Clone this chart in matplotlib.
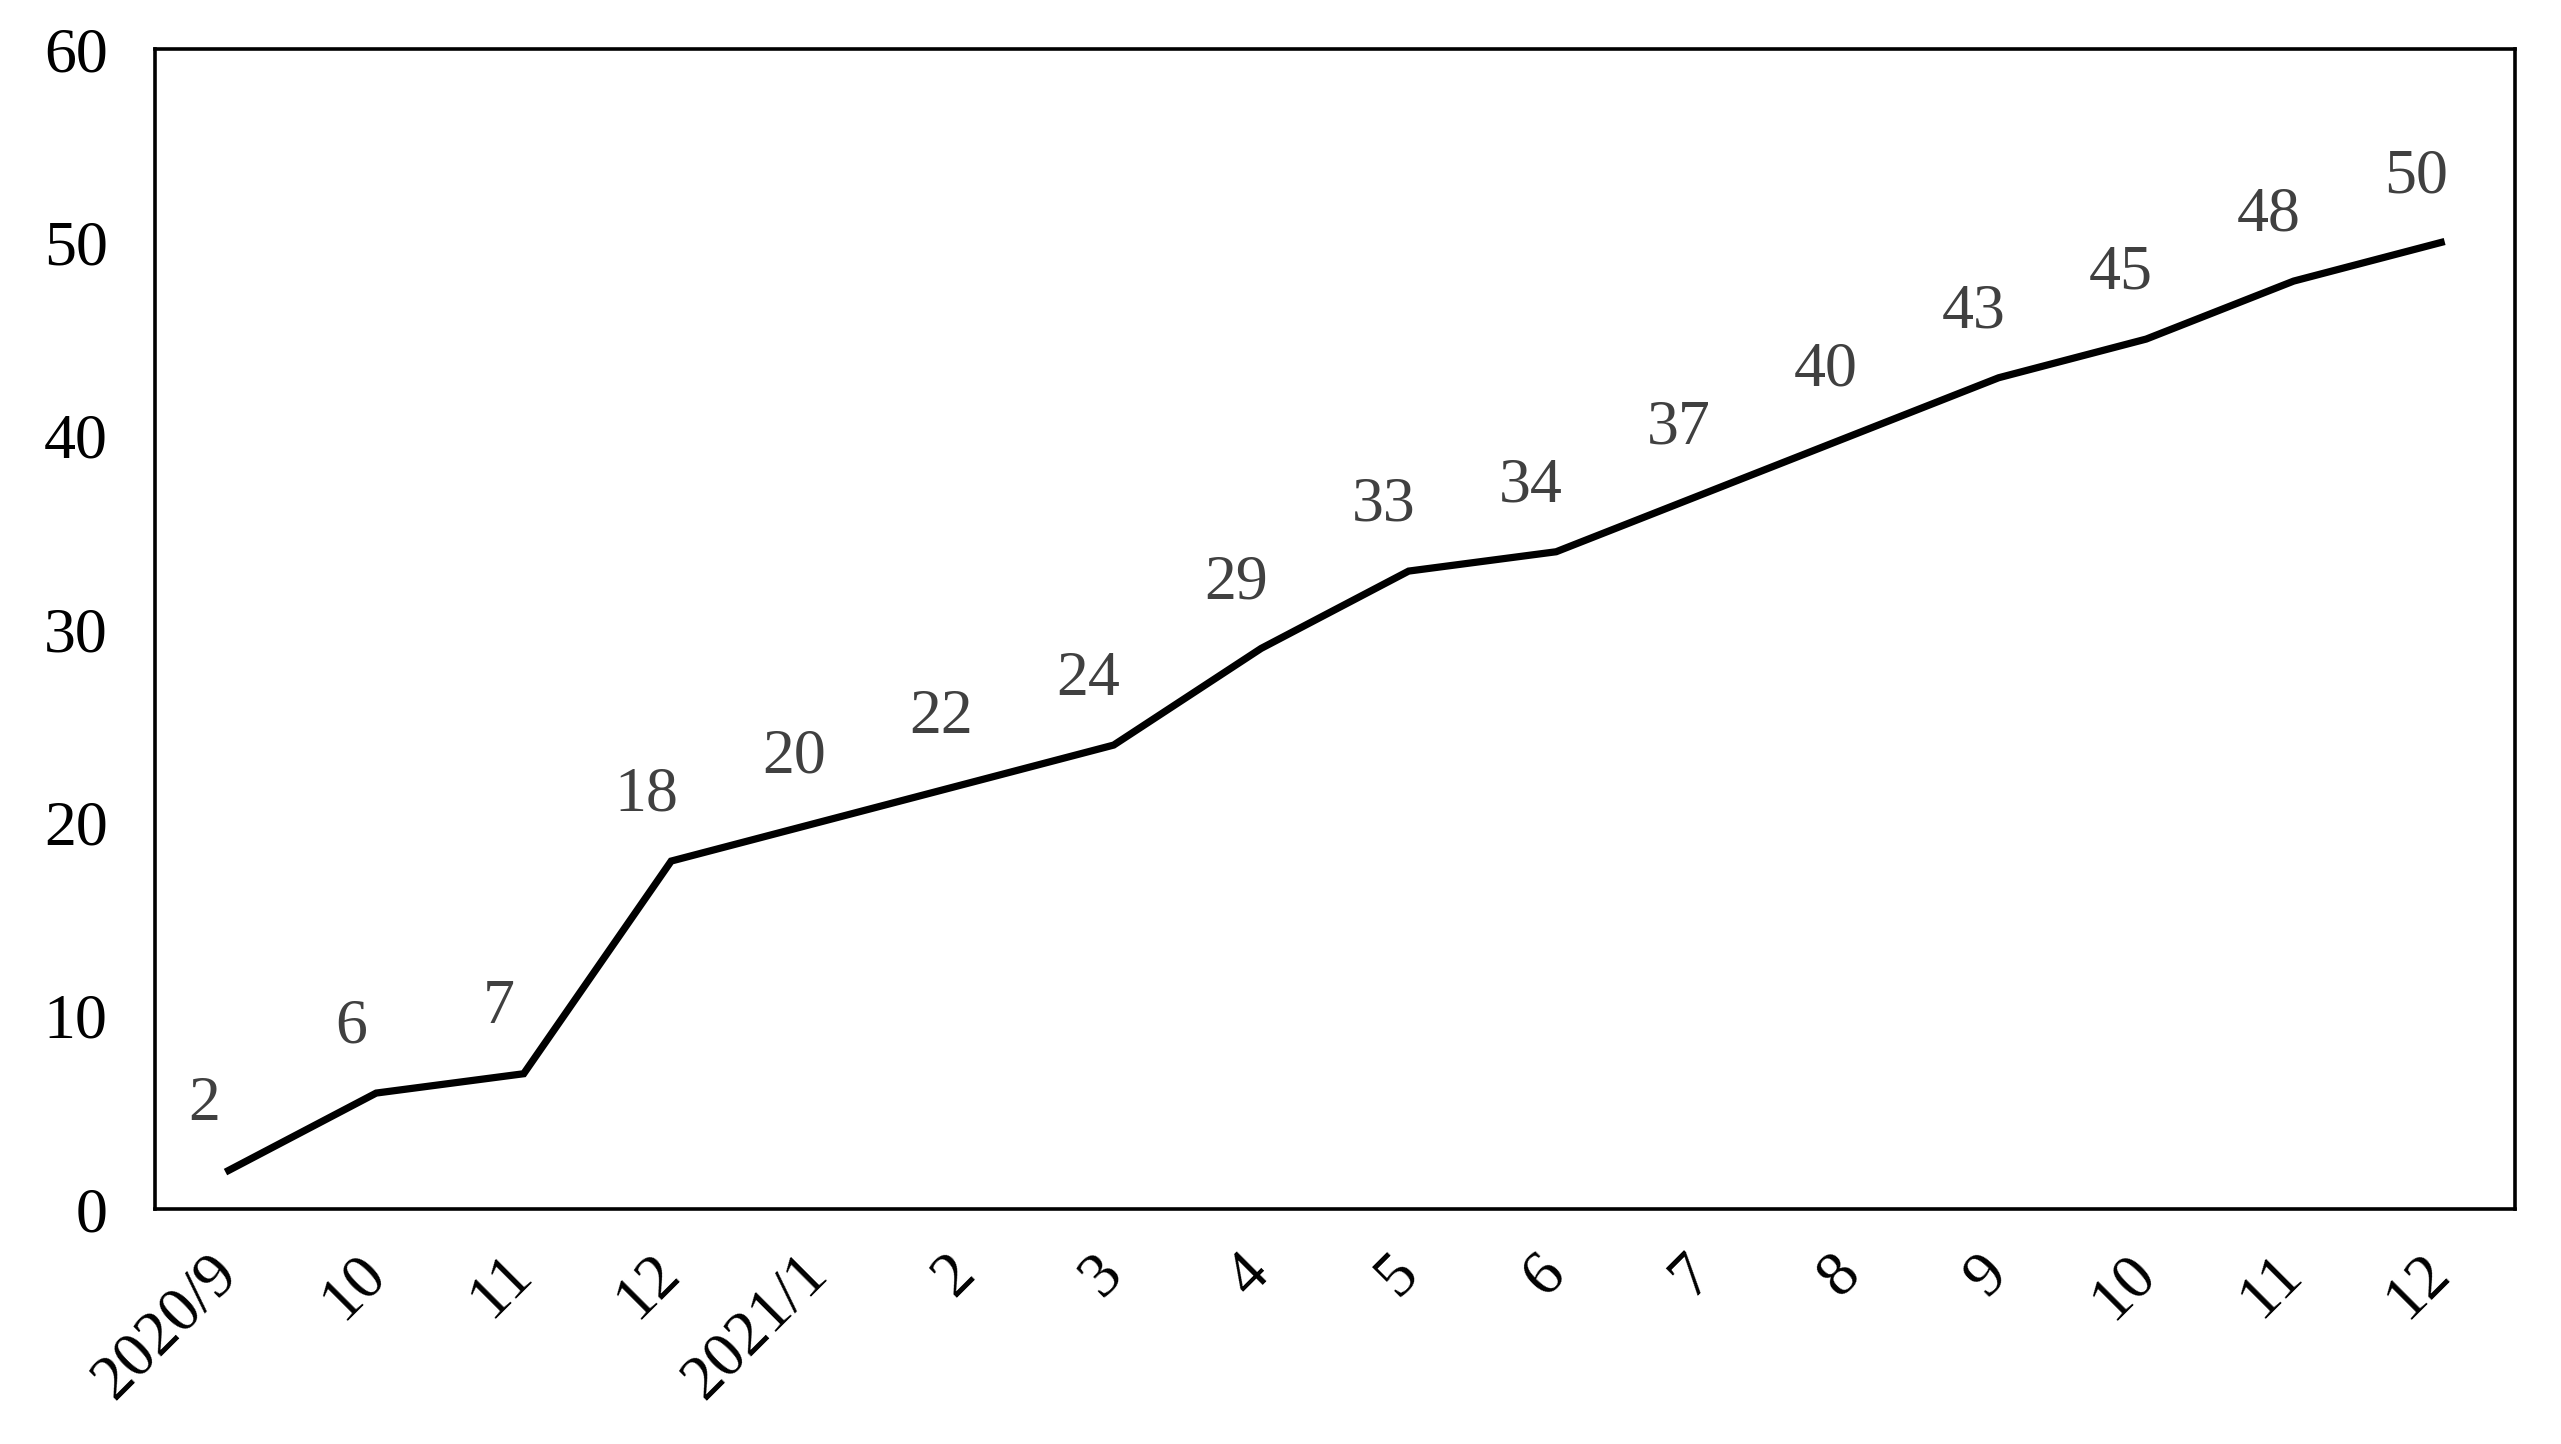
import numpy as np
import matplotlib.pyplot as plt

months = ["2020/9", "10", "11", "12", "2021/1", "2", "3", "4", "5", "6",
          "7", "8", "9", "10", "11", "12"]
counts = [2, 6, 7, 18, 20, 22, 24, 29, 33, 34, 37, 40, 43, 45, 48, 50]

plt.rcParams["font.family"] = ["Liberation Serif", "DejaVu Serif"]

fig = plt.figure(figsize=(25.61, 14.44), dpi=100)
ax = fig.add_axes([0.0605, 0.1627, 0.9215, 0.8033])

x = np.arange(len(months))
ax.plot(x, counts, color="black", linewidth=5.2, solid_joinstyle="miter")

# value labels sit above and a bit to the left of each point
for xi, v in zip(x, counts):
    ax.annotate(str(v), (xi, v), xytext=(-18, 47), textcoords="offset points",
                ha="center", va="center", fontsize=46, color="#404040")

ax.set_xlim(-0.5, len(months) - 0.5)
ax.set_ylim(0, 60)
ax.set_yticks(range(0, 61, 10))
ax.set_xticks(x)
ax.set_xticklabels(months, rotation=45, ha="right", va="center",
                   rotation_mode="anchor")
ax.tick_params(axis="both", length=0, labelsize=46, colors="black")
ax.tick_params(axis="x", pad=40)
ax.tick_params(axis="y", pad=34)

for s in ax.spines.values():
    s.set_linewidth(2.6)
    s.set_color("black")

fig.savefig("out.png", dpi=100)
